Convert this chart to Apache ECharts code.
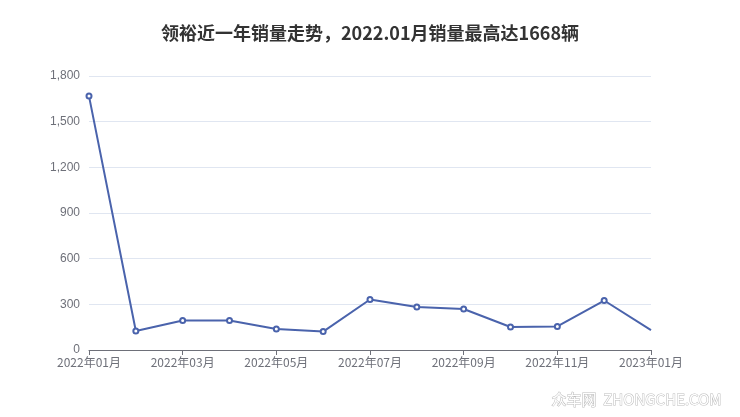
<!DOCTYPE html>
<html><head><meta charset="utf-8">
<script src="https://cdn.jsdelivr.net/npm/echarts@6/dist/echarts.min.js"></script>
<style>html,body{margin:0;padding:0;background:#fff}#c{width:740px;height:417px}</style>
</head><body><div id="c"></div>
<script>
const categories = ['2022年01月','2022年02月','2022年03月','2022年04月','2022年05月','2022年06月','2022年07月','2022年08月','2022年09月','2022年10月','2022年11月','2022年12月','2023年01月'];
const sales = [1668, 125, 194, 194, 138, 121, 332, 282, 269, 151, 155, 325, 131];
const yTicks = {min: 0, max: 1800, interval: 300};
const titleText = '领裕近一年销量走势，2022.01月销量最高达1668辆';

const chart = echarts.init(document.getElementById('c'));
chart.setOption({
  animation: false,
  title: {text: titleText, left: 'center', top: 19,
    textStyle: {fontSize: 18, fontWeight: 'bold', color: '#333', fontFamily: '"Noto Sans CJK SC", sans-serif'}},
  grid: {left: 89, right: 89, top: 76, bottom: 67},
  xAxis: {type: 'category', data: categories, boundaryGap: false,
    axisLine: {lineStyle: {color: '#6E7079'}},
    axisTick: {show: true, interval: 1, alignWithLabel: true},
    axisLabel: {interval: 1, color: '#6E7079', fontSize: 12, margin: 6, fontFamily: '"Noto Sans CJK SC", sans-serif'}},
  yAxis: {type: 'value', min: yTicks.min, max: yTicks.max, interval: yTicks.interval,
    axisLine: {show: false}, axisTick: {show: false},
    axisLabel: {color: '#6E7079', fontSize: 12, margin: 9},
    splitLine: {lineStyle: {color: '#E0E6F1'}}},
  series: [{type: 'line', data: sales.map((v, i) => i === sales.length - 1 ? {value: v, symbol: 'none'} : v),
    symbol: 'emptyCircle', symbolSize: 5,
    lineStyle: {color: '#4a63ac', width: 2}, itemStyle: {color: '#4a63ac'}}],
  graphic: [{type: 'text', right: 18, bottom: 10,
    style: {text: '众车网  ZHONGCHE.COM', fontSize: 15, fill: '#fff', stroke: '#bbb', lineWidth: 1,
      fontFamily: '"Noto Sans CJK SC", sans-serif'}}]
});
</script></body></html>
